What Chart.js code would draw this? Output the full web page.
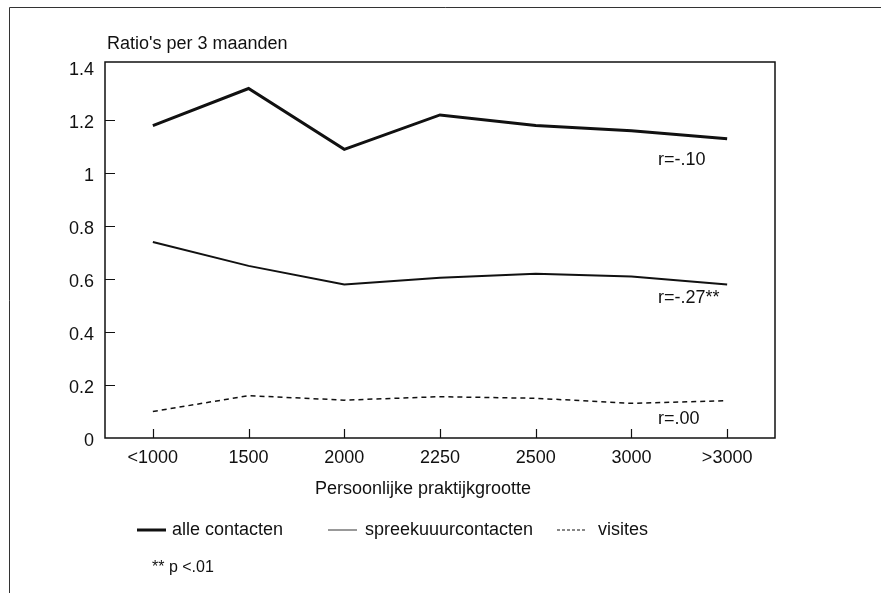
<!DOCTYPE html>
<html>
<head>
<meta charset="utf-8">
<script src="https://cdn.jsdelivr.net/npm/chart.js@4.4.0/dist/chart.umd.min.js"></script>
<style>
    html, body { margin: 0; padding: 0; background: #fff; }
    #wrap { width: 881px; height: 593px; }
</style>
</head>
<body>
<div id="wrap"><canvas id="chart" width="881" height="593"></canvas></div>
<script>
// data
const categories = ['<1000', '1500', '2000', '2250', '2500', '3000', '>3000'];
const alleContacten = [1.18, 1.32, 1.09, 1.22, 1.18, 1.16, 1.13];
const spreekuurContacten = [0.74, 0.65, 0.58, 0.605, 0.62, 0.61, 0.58];
const visites = [0.10, 0.16, 0.143, 0.156, 0.15, 0.131, 0.141];
const yTicks = [0, 0.2, 0.4, 0.6, 0.8, 1, 1.2, 1.4];
const seriesNames = ['alle contacten', 'spreekuuurcontacten', 'visites'];
const rLabels = ['r=-.10', 'r=-.27**', 'r=.00'];
const rLabelAt = [1.05, 0.53, 0.07]; // y value where each r label sits

const FONT = "'Liberation Sans', Arial, sans-serif";
const INK = '#111';

// frame, plot box, inside ticks, titles, r labels and legend
const extras = {
    id: 'extras',
    afterDraw(chart) {
        const ctx = chart.ctx;
        const area = chart.chartArea;
        const xs = chart.scales.x;
        const ys = chart.scales.y;
        ctx.save();

        // page frame (top and left only)
        ctx.strokeStyle = '#333';
        ctx.lineWidth = 1;
        ctx.beginPath();
        ctx.moveTo(9.5, 593);
        ctx.lineTo(9.5, 7.5);
        ctx.lineTo(881, 7.5);
        ctx.stroke();

        // plot box
        ctx.strokeStyle = INK;
        ctx.lineWidth = 1.5;
        ctx.strokeRect(area.left, area.top, area.right - area.left, area.bottom - area.top);

        // ticks pointing inward
        ctx.lineWidth = 1.2;
        ctx.beginPath();
        ys.ticks.forEach((t, i) => {
            if (t.value <= 0 || t.value >= 1.4) return;
            const y = Math.round(ys.getPixelForTick(i)) + 0.5;
            ctx.moveTo(area.left, y);
            ctx.lineTo(area.left + 10, y);
        });
        categories.forEach((c, i) => {
            const x = Math.round(xs.getPixelForTick(i)) + 0.5;
            ctx.moveTo(x, area.bottom);
            ctx.lineTo(x, area.bottom - 9);
        });
        ctx.stroke();

        ctx.fillStyle = INK;
        ctx.font = '18px ' + FONT;
        ctx.textBaseline = 'middle';

        // axis titles
        ctx.textAlign = 'left';
        ctx.fillText("Ratio's per 3 maanden", 107, 44);
        ctx.textAlign = 'center';
        ctx.fillText('Persoonlijke praktijkgrootte', 423, 489);

        // correlation labels next to the lines
        ctx.textAlign = 'left';
        rLabels.forEach((txt, i) => {
            ctx.fillText(txt, 658, ys.getPixelForValue(rLabelAt[i]));
        });

        // legend
        const legendX = [[137, 166, 172], [328, 357, 365], [557, 587, 598]];
        const legendY = 530;
        chart.data.datasets.forEach((ds, i) => {
            const [x0, x1, tx] = legendX[i];
            ctx.strokeStyle = i === 1 ? '#555' : ds.borderColor;
            ctx.lineWidth = i === 0 ? 3 : 1.2;
            ctx.setLineDash(i === 2 ? [3, 2] : []);
            ctx.beginPath();
            ctx.moveTo(x0, legendY);
            ctx.lineTo(x1, legendY);
            ctx.stroke();
            ctx.setLineDash([]);
            ctx.fillText(seriesNames[i], tx, legendY);
        });

        ctx.font = '16px ' + FONT;
        ctx.fillText('** p <.01', 152, 568);
        ctx.restore();
    }
};

new Chart(document.getElementById('chart'), {
    type: 'line',
    data: {
        labels: categories,
        datasets: [
            { label: seriesNames[0], data: alleContacten, borderColor: INK, borderWidth: 3 },
            { label: seriesNames[1], data: spreekuurContacten, borderColor: INK, borderWidth: 2 },
            { label: seriesNames[2], data: visites, borderColor: INK, borderWidth: 1.5, borderDash: [5, 4] }
        ]
    },
    options: {
        responsive: false,
        animation: false,
        devicePixelRatio: 1,
        elements: {
            point: { radius: 0 },
            line: { tension: 0, fill: false }
        },
        layout: { padding: { left: 0, top: 62, right: 106, bottom: 115 } },
        plugins: {
            legend: { display: false },
            tooltip: { enabled: false }
        },
        scales: {
            x: {
                offset: true,
                grid: { display: false, drawTicks: false },
                border: { display: false },
                ticks: { color: INK, padding: 9, font: { family: FONT, size: 18 }, maxRotation: 0 },
                afterFit: s => { s.height = 40; }
            },
            y: {
                min: 0,
                max: 1.42,
                grid: { display: false, drawTicks: false },
                border: { display: false },
                afterBuildTicks: s => { s.ticks = yTicks.map(v => ({ value: v })); },
                ticks: {
                    color: INK,
                    padding: 11,
                    labelOffset: 3,
                    font: { family: FONT, size: 18 },
                    callback: v => String(Math.round(v * 10) / 10)
                },
                afterFit: s => { s.width = 105; }
            }
        }
    },
    plugins: [extras]
});
</script>
</body>
</html>
